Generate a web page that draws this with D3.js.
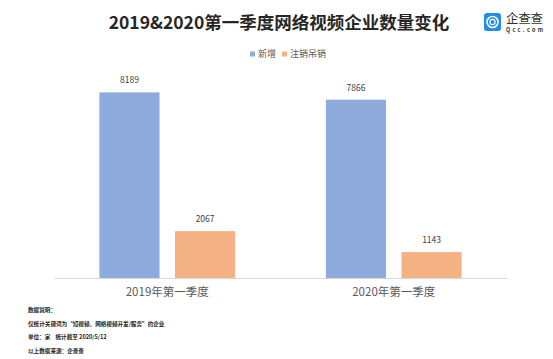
<!DOCTYPE html>
<html>
<head>
  <meta charset="utf-8">
  <title>2019&2020第一季度网络视频企业数量变化</title>
  <script src="https://d3js.org/d3.v7.min.js"></script>
  <style>
    body { margin: 0; background: #fff; }
    svg { font-family: "Noto Sans CJK SC", "Noto Sans", sans-serif; display: block; }
    svg text { white-space: pre; }
  </style>
</head>
<body>
  <svg id="chart"></svg>

  <script>
    // data
    const categories = ["2019年第一季度", "2020年第一季度"];
    const seriesNames = ["新增", "注销吊销"];
    const newCount = [8189, 7866];
    const cancelCount = [2067, 1143];
    const notes = [
      "数据说明：",
      "仅统计关键词为\u201c短视频、网络视频开发/服务\u201d的企业",
      "单位：家    统计截至 2020/5/12",
      "以上数据来源：企查查"
    ];

    const colors = ["#8FAADC", "#F4B183"];
    const width = 553, height = 359;

    const svg = d3.select("#chart")
      .attr("width", width)
      .attr("height", height);

    // title
    svg.append("text")
      .attr("x", 279).attr("y", 23)
      .attr("dy", "0.35em")
      .attr("text-anchor", "middle")
      .attr("font-size", 17.5).attr("font-weight", "bold")
      .attr("fill", "#262626")
      .text("2019&2020第一季度网络视频企业数量变化");

    // logo
    const logo = svg.append("g");
    logo.append("rect")
      .attr("x", 484).attr("y", 13).attr("width", 17).attr("height", 18)
      .attr("rx", 3).attr("fill", "#1E8CF0");
    logo.append("circle")
      .attr("cx", 492.5).attr("cy", 22).attr("r", 5.5)
      .attr("fill", "none").attr("stroke", "#fff").attr("stroke-width", 1.6);
    logo.append("circle")
      .attr("cx", 492.5).attr("cy", 22).attr("r", 2.6)
      .attr("fill", "none").attr("stroke", "#fff").attr("stroke-width", 1.2);
    logo.append("text")
      .attr("x", 506).attr("y", 19).attr("dy", "0.35em")
      .attr("font-size", 12.5).attr("fill", "#333")
      .attr("textLength", 37)
      .text("企查查");
    logo.append("text")
      .attr("x", 506).attr("y", 30).attr("dy", "0.35em")
      .attr("font-size", 5.5).attr("fill", "#333").attr("font-weight", "bold")
      .attr("textLength", 37)
      .text("Qcc.com");

    // legend
    const legendItems = [
      { name: seriesNames[0], color: colors[0], x: 250 },
      { name: seriesNames[1], color: colors[1], x: 282 }
    ];
    const lg = svg.selectAll(".legend")
      .data(legendItems)
      .enter().append("g")
      .attr("transform", d => `translate(${d.x},54)`);
    lg.append("rect")
      .attr("x", 0).attr("y", -2.5).attr("width", 5).attr("height", 5)
      .attr("fill", d => d.color);
    lg.append("text")
      .attr("x", 8).attr("dy", "0.35em")
      .attr("font-size", 9).attr("fill", "#595959")
      .text(d => d.name);

    // scales
    const x0 = d3.scaleBand()
      .domain(categories)
      .range([54, 507]);

    const x1 = d3.scaleBand()
      .domain(seriesNames)
      .range([0, x0.bandwidth()])
      .paddingInner(0.205)
      .paddingOuter(0.6);

    const y = d3.scaleLinear()
      .domain([0, 9000])
      .range([278, 74]);

    const rows = categories.map((c, i) => ({
      category: c,
      values: [
        { name: seriesNames[0], value: newCount[i] },
        { name: seriesNames[1], value: cancelCount[i] }
      ]
    }));

    const groups = svg.selectAll(".group")
      .data(rows)
      .enter().append("g")
      .attr("transform", d => `translate(${x0(d.category)},0)`);

    groups.selectAll("rect")
      .data(d => d.values)
      .enter().append("rect")
      .attr("x", d => x1(d.name))
      .attr("y", d => y(d.value))
      .attr("width", x1.bandwidth())
      .attr("height", d => y(0) - y(d.value))
      .attr("fill", (d, i) => colors[i]);

    groups.selectAll(".val")
      .data(d => d.values)
      .enter().append("text")
      .attr("x", d => x1(d.name) + x1.bandwidth() / 2)
      .attr("y", d => y(d.value) - 12)
      .attr("dy", "0.35em")
      .attr("text-anchor", "middle")
      .attr("font-size", 8.5).attr("fill", "#404040")
      .text(d => d.value);

    // x axis
    const xAxis = svg.append("g")
      .attr("transform", `translate(0,${y(0)})`)
      .call(d3.axisBottom(x0).tickSize(0).tickPadding(10));
    xAxis.select(".domain").attr("stroke", "#D9D9D9").attr("stroke-width", 1);
    xAxis.selectAll("text")
      .attr("font-size", 11.5)
      .attr("fill", "#595959")
      .attr("font-family", "'Noto Sans CJK SC', sans-serif");

    // notes
    svg.selectAll(".note")
      .data(notes)
      .enter().append("text")
      .attr("x", 28)
      .attr("y", (d, i) => [310, 324, 337.5, 351.5][i])
      .attr("dy", "0.35em")
      .attr("font-size", 5.6).attr("font-weight", "bold")
      .attr("fill", "#262626")
      .text(d => d);
  </script>
</body>
</html>
